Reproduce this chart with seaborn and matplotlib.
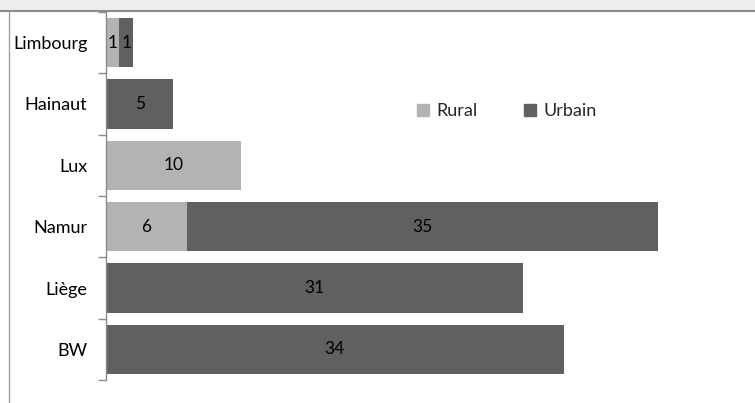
import matplotlib
matplotlib.use("Agg")
import matplotlib.pyplot as plt
import seaborn as sns
import pandas as pd
import numpy as np
from matplotlib.patches import Rectangle
from matplotlib.lines import Line2D

provinces = ["Limbourg", "Hainaut", "Lux", "Namur", "Liège", "BW"]
rural = [1, 0, 10, 6, 0, 0]
urbain = [1, 5, 0, 35, 31, 34]

RURAL_COLOR = "#b3b3b3"
URBAIN_COLOR = "#606060"

sns.set_theme(style="white")
plt.rcParams["font.family"] = ["Lato", "DejaVu Sans"]

df = pd.DataFrame({"province": provinces, "Rural": rural, "Urbain": urbain})
df["total"] = df["Rural"] + df["Urbain"]

W, H = 755, 403
fig = plt.figure(figsize=(W / 100, H / 100), dpi=100)

# frame decoration: light band on top, thin border lines
fig.patches.append(Rectangle((0, 1 - 10 / H), 1, 10 / H, transform=fig.transFigure,
                             facecolor="#efefef", edgecolor="none", zorder=0))
fig.add_artist(Line2D([0, 1], [1 - 10.5 / H] * 2, transform=fig.transFigure,
                      color="#8c8c8c", lw=1.5))
fig.add_artist(Line2D([8.5 / W] * 2, [0, 1 - 10.5 / H], transform=fig.transFigure,
                      color="#a0a0a0", lw=1))

left_px, right_px, top_px, bot_px = 106, 755, 12, 380
ax = fig.add_axes([left_px / W, 1 - bot_px / H, (right_px - left_px) / W,
                   (bot_px - top_px) / H])

# stacked bars: totals in dark grey, rural part painted over on the left
sns.barplot(data=df, y="province", x="total", order=provinces, color=URBAIN_COLOR,
            width=0.8, ax=ax, saturation=1, orient="h", linewidth=0)
sns.barplot(data=df, y="province", x="Rural", order=provinces, color=RURAL_COLOR,
            width=0.8, ax=ax, saturation=1, orient="h", linewidth=0)

scale = 41 / (658 - 106)
ax.set_xlim(0, (right_px - left_px) * scale)
ax.set_ylim(5.5, -0.5)

for i, (r, u) in enumerate(zip(rural, urbain)):
    if r > 0:
        ax.text(r / 2, i, str(r), ha="center", va="center", fontsize=12.5, color="#000000")
    if u > 0:
        ax.text(r + u / 2, i, str(u), ha="center", va="center", fontsize=12.5, color="#000000")

ax.set_xlabel("")
ax.set_ylabel("")
ax.set_xticks([])
ax.set_yticks(range(len(provinces)))
ax.set_yticklabels(provinces, fontsize=13, color="#000000")
ax.tick_params(axis="y", which="major", left=True, length=0, pad=13.5)
ax.set_yticks(np.arange(-0.5, len(provinces), 1), minor=True)
ax.tick_params(axis="y", which="minor", left=True, length=6, width=1, color="#8c8c8c")
for s in ["top", "right", "bottom"]:
    ax.spines[s].set_visible(False)
ax.spines["left"].set_color("#8c8c8c")
ax.spines["left"].set_linewidth(1)

handles = [Rectangle((0, 0), 1, 1, color=RURAL_COLOR), Rectangle((0, 0), 1, 1, color=URBAIN_COLOR)]
fig.legend(handles, ["Rural", "Urbain"], loc="center", bbox_to_anchor=(507 / W, 1 - 111 / H),
           ncol=2, frameon=False, fontsize=13, handlelength=0.65, handleheight=0.65,
           handletextpad=0.4, columnspacing=2.6)

fig.savefig("out.png", dpi=100)
